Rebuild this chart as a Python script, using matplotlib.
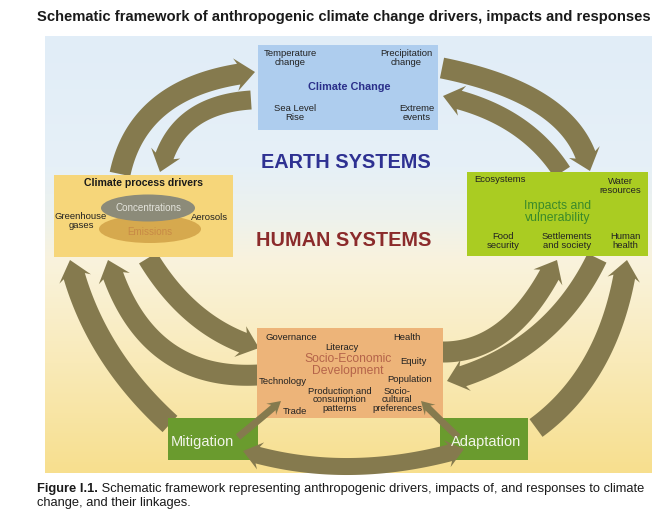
import numpy as np
import matplotlib
matplotlib.use("Agg")
import matplotlib.pyplot as plt
from matplotlib.patches import Rectangle, Ellipse, Polygon
from matplotlib.colors import LinearSegmentedColormap

plt.rcParams['font.family'] = ['Liberation Sans', 'DejaVu Sans']

# ---------------- content ----------------
title = "Schematic framework of anthropogenic climate change drivers, impacts and responses"
caption_bold = "Figure I.1."
caption_rest1 = " Schematic framework representing anthropogenic drivers, impacts of, and responses to climate"
caption_rest2 = "change, and their linkages."

climate_title = "Climate Change"
climate_labels = ["Temperature\nchange", "Precipitation\nchange", "Sea Level\nRise", "Extreme\nevents"]

earth_label = "EARTH SYSTEMS"
human_label = "HUMAN SYSTEMS"

drivers_title = "Climate process drivers"
drivers_ellipses = ["Concentrations", "Emissions"]
drivers_side = ["Greenhouse\ngases", "Aerosols"]

impacts_title = "Impacts and\nvulnerability"
impacts_labels = ["Ecosystems", "Water\nresources", "Food\nsecurity", "Settlements\nand society", "Human\nhealth"]

socio_title = "Socio-Economic\nDevelopment"
socio_labels = ["Governance", "Literacy", "Health", "Equity", "Technology", "Population",
                "Production and\nconsumption\npatterns", "Socio-\ncultural\npreferences", "Trade"]

responses = ["Mitigation", "Adaptation"]

# ---------------- layout / style ----------------
ARROW = "#857A4E"
fig = plt.figure(figsize=(6.6, 5.16), dpi=100)
ax = fig.add_axes([0, 0, 1, 1])
ax.set_xlim(0, 660)
ax.set_ylim(516, 0)
ax.axis('off')

# background panel gradient
cmap = LinearSegmentedColormap.from_list("bg", [
    (0.0, "#E1EDF8"), (0.30, "#E6F0F7"), (0.42, "#EEF2EC"),
    (0.52, "#FAF3DC"), (0.75, "#F9EAB8"), (1.0, "#F7DF8E")])
ax.imshow(np.linspace(0, 1, 256)[:, None], extent=[45, 652, 473, 36],
          aspect='auto', cmap=cmap, zorder=0, interpolation='bilinear')


def arrow_poly(p0, p1, p2, w, hw, hl, both=False):
    p0, p1, p2 = map(np.asarray, (p0, p1, p2))
    t = np.linspace(0, 1, 400)[:, None]
    P = (1 - t) ** 2 * p0 + 2 * (1 - t) * t * p1 + t ** 2 * p2
    seg = np.hypot(*np.diff(P, axis=0).T)
    s = np.concatenate([[0], np.cumsum(seg)])
    L = s[-1]
    ie = np.searchsorted(s, L - hl)
    i0 = np.searchsorted(s, hl) if both else 0
    tan = np.gradient(P, axis=0)
    tan /= np.hypot(tan[:, 0], tan[:, 1])[:, None]
    nrm = np.column_stack([-tan[:, 1], tan[:, 0]])
    body = P[i0:ie + 1]
    bn = nrm[i0:ie + 1]
    left = body + bn * w / 2
    right = body - bn * w / 2
    pts = list(left)
    be, ne, te = P[ie], nrm[ie], tan[ie]
    pts += [be + ne * hw / 2 - te * 3, p2, be - ne * hw / 2 - te * 3]
    pts += list(right[::-1])
    if both:
        bs, ns, ts = P[i0], nrm[i0], tan[i0]
        pts += [bs - ns * hw / 2 + ts * 3, p0, bs + ns * hw / 2 + ts * 3]
    return np.array(pts)


def arrow(p0, p1, p2, w=21, hw=33, hl=17, both=False, z=2):
    ax.add_patch(Polygon(arrow_poly(p0, p1, p2, w, hw, hl, both), closed=True,
                         facecolor=ARROW, edgecolor='none', zorder=z))


# big curved arrows (start, control, tip)
arrow((120, 174), (139, 84), (255, 72))           # drivers -> climate
arrow((251, 100), (174, 105), (160, 172), w=19, hw=31)  # climate -> drivers
arrow((442, 68), (576, 95), (590, 171))           # climate -> impacts
arrow((562, 172), (524, 113), (443, 96), w=19, hw=31)   # impacts -> climate
arrow((170, 424), (92, 353), (70, 260), w=22)     # mitigation -> drivers
arrow((258, 375), (144, 381), (108, 260), w=21)   # socio -> drivers
arrow((148, 258), (191, 329), (259, 348), w=21)   # drivers -> socio
arrow((442, 352), (512, 353), (557, 260), w=21)   # socio -> impacts
arrow((597, 258), (551, 353), (447, 381), w=21)   # impacts -> socio
arrow((536, 428), (611, 373), (627, 260), w=22)   # adaptation -> impacts

# boxes
ax.add_patch(Rectangle((258, 45), 180, 85, facecolor="#AECDEE", edgecolor='none', zorder=3))
ax.add_patch(Rectangle((54, 175), 179, 82, facecolor="#F6D67A", edgecolor='none', zorder=3))
ax.add_patch(Rectangle((467, 172), 181, 84, facecolor="#AACC22", edgecolor='none', zorder=3))
ax.add_patch(Rectangle((257, 328), 186, 90, facecolor="#EDB479", edgecolor='none', zorder=3))
ax.add_patch(Rectangle((168, 418), 90, 42, facecolor="#6A9B2E", edgecolor='none', zorder=3))
ax.add_patch(Rectangle((440, 418), 88, 42, facecolor="#6A9B2E", edgecolor='none', zorder=3))

# ellipses in drivers box
ax.add_patch(Ellipse((150, 229), 102, 28, facecolor="#D6A94E", edgecolor='none', zorder=4))
ax.add_patch(Ellipse((148, 208), 94, 27, facecolor="#8C8B79", edgecolor='none', zorder=5))

# small arrows and bottom double arrow (over boxes)
arrow((238, 437), (259, 420), (281, 401), w=7, hw=15, hl=10, z=6)
arrow((458, 437), (440, 420), (421, 401), w=7, hw=15, hl=10, z=6)
arrow((243, 451), (347, 483), (464, 449), w=17, hw=28, hl=15, both=True, z=6)

# ---------------- text ----------------
ax.text(344, 17, title, ha='center', va='center', fontsize=10.6, fontweight='bold', color="#1A1A1A")

TS = 6.8
T = dict(ha='center', va='center', fontsize=TS, color="#222222", zorder=7, linespacing=0.95)
# climate box
ax.text(349, 87, climate_title, ha='center', va='center', fontsize=7.8, fontweight='bold', color="#2A2F8A", zorder=7)
for (x, y), s in zip([(290, 58), (406, 58), (295, 113), (417, 113)], climate_labels):
    ax.text(x, y, s, **T)

ax.text(346, 162, earth_label, ha='center', va='center', fontsize=14.3, fontweight='bold', color="#2E3192")
ax.text(344, 241, human_label, ha='center', va='center', fontsize=14.3, fontweight='bold', color="#8B2B2B")

# drivers
ax.text(143, 183, drivers_title, ha='center', va='center', fontsize=7.6, fontweight='bold', color="#1A1A1A", zorder=7)
ax.text(148, 208, drivers_ellipses[0], ha='center', va='center', fontsize=7.1, color="#E4E4DC", zorder=7)
ax.text(150, 232, drivers_ellipses[1], ha='center', va='center', fontsize=7.1, color="#C88A46", zorder=7)
ax.text(81, 221, drivers_side[0], **T)
ax.text(210, 218, drivers_side[1], **T)

# impacts
ax.text(558, 212, impacts_title, ha='center', va='center', fontsize=8.8, color="#3A8A2A", zorder=7, linespacing=1.0)
for (x, y), s in zip([(500, 180), (620, 186), (503, 241), (567, 241), (625, 241)], impacts_labels):
    ax.text(x, y, s, **T)

# socio
ax.text(348, 365, socio_title, ha='center', va='center', fontsize=8.7, color="#B5644A", zorder=7, linespacing=1.0)
socio_pos = [(291, 337), (342, 347), (407, 337), (413, 362), (283, 382), (410, 380),
             (340, 400), (397, 400), (295, 412)]
for (x, y), s in zip(socio_pos, socio_labels):
    ax.text(x, y, s, **T)

# responses
ax.text(202, 442, responses[0], ha='center', va='center', fontsize=10.5, color="#F2F5EA", zorder=7)
ax.text(486, 442, responses[1], ha='center', va='center', fontsize=10.5, color="#F2F5EA", zorder=7)

# caption
t1 = ax.text(37, 495, caption_bold, ha='left', va='bottom', fontsize=9.3, fontweight='bold', color="#1A1A1A")
ax.annotate(caption_rest1, xy=(1, 0), xycoords=t1, ha='left', va='bottom', fontsize=9.3, color="#1A1A1A")
ax.text(37, 509, caption_rest2, ha='left', va='bottom', fontsize=9.3, color="#1A1A1A")

fig.savefig("out.png", dpi=100)
